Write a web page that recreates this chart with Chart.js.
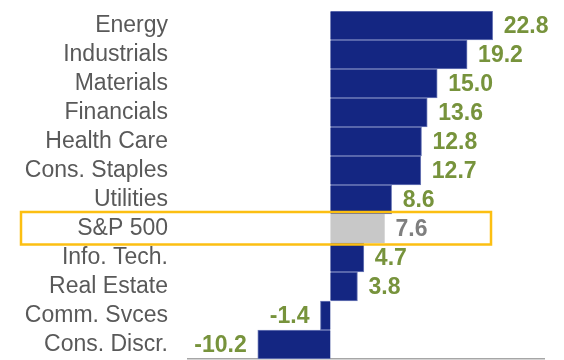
<!DOCTYPE html>
<html>
<head>
<meta charset="utf-8">
<script src="https://cdn.jsdelivr.net/npm/chart.js@4"></script>
<style>
  html, body { margin: 0; padding: 0; background: #fff; }
  #wrap { width: 564px; height: 360px; }
</style>
</head>
<body>
<div id="wrap"><canvas id="sectorChart"></canvas></div>
<script>
// sector returns, %
const sectors = ['Energy', 'Industrials', 'Materials', 'Financials', 'Health Care', 'Cons. Staples',
  'Utilities', 'S&P 500', 'Info. Tech.', 'Real Estate', 'Comm. Svces', 'Cons. Discr.'];
const returns = [22.8, 19.2, 15.0, 13.6, 12.8, 12.7, 8.6, 7.6, 4.7, 3.8, -1.4, -10.2];
const highlight = 'S&P 500';

const navy = '#142682';
const grey = '#c8c8c8';
const green = '#77933c';

const barColors = sectors.map(s => s === highlight ? grey : navy);

// value labels next to each bar
const valueLabels = {
  id: 'valueLabels',
  afterDatasetsDraw(chart) {
    const ctx = chart.ctx;
    const meta = chart.getDatasetMeta(0);
    ctx.save();
    ctx.font = 'bold 23px "Liberation Sans", Arial, sans-serif';
    ctx.textBaseline = 'middle';
    meta.data.forEach((bar, i) => {
      const v = returns[i];
      ctx.fillStyle = sectors[i] === highlight ? '#7f7f7f' : green;
      if (v >= 0) {
        ctx.textAlign = 'left';
        ctx.fillText(v.toFixed(1), bar.x + 11, bar.y + 1);
      } else {
        ctx.textAlign = 'right';
        ctx.fillText(v.toFixed(1), bar.x - 11, bar.y + 1);
      }
    });
    ctx.restore();
  }
};

// yellow box round the index row
const highlightBox = {
  id: 'highlightBox',
  afterDraw(chart) {
    const y = chart.scales.y;
    const idx = sectors.indexOf(highlight);
    const step = (y.bottom - y.top) / sectors.length;
    const cy = y.getPixelForValue(idx);
    const ctx = chart.ctx;
    ctx.save();
    ctx.strokeStyle = '#fcbf12';
    ctx.lineWidth = 2.5;
    ctx.strokeRect(21, cy - step / 2 - 2, 470, step + 3.5);
    ctx.restore();
  }
};

new Chart(document.getElementById('sectorChart'), {
  type: 'bar',
  data: {
    labels: sectors,
    datasets: [{
      data: returns,
      backgroundColor: barColors,
      borderColor: sectors.map(s => s === highlight ? grey : '#6f7cb8'),
      borderWidth: 1,
      barPercentage: 1,
      categoryPercentage: 1
    }]
  },
  options: {
    indexAxis: 'y',
    responsive: true,
    maintainAspectRatio: false,
    animation: false,
    layout: { padding: { top: 11, right: 20, bottom: 0, left: 0 } },
    plugins: { legend: { display: false }, tooltip: { enabled: false } },
    scales: {
      x: {
        min: -20, max: 30,
        grid: { display: false },
        border: { display: true, color: '#a6a6a6', width: 1.5 },
        ticks: { display: false },
        afterFit(s) {
          s.height = 1;
          s.paddingLeft = s.paddingRight = s.paddingTop = s.paddingBottom = 0;
        }
      },
      y: {
        grid: { display: false },
        border: { display: false },
        ticks: {
          color: '#595959',
          padding: 12,
          autoSkip: false,
          font: { family: '"Liberation Sans", Arial, sans-serif', size: 23 }
        },
        afterFit(s) {
          s.width = 188;
          s.paddingLeft = s.paddingRight = s.paddingTop = s.paddingBottom = 0;
        }
      }
    }
  },
  plugins: [valueLabels, highlightBox]
});
</script>
</body>
</html>
